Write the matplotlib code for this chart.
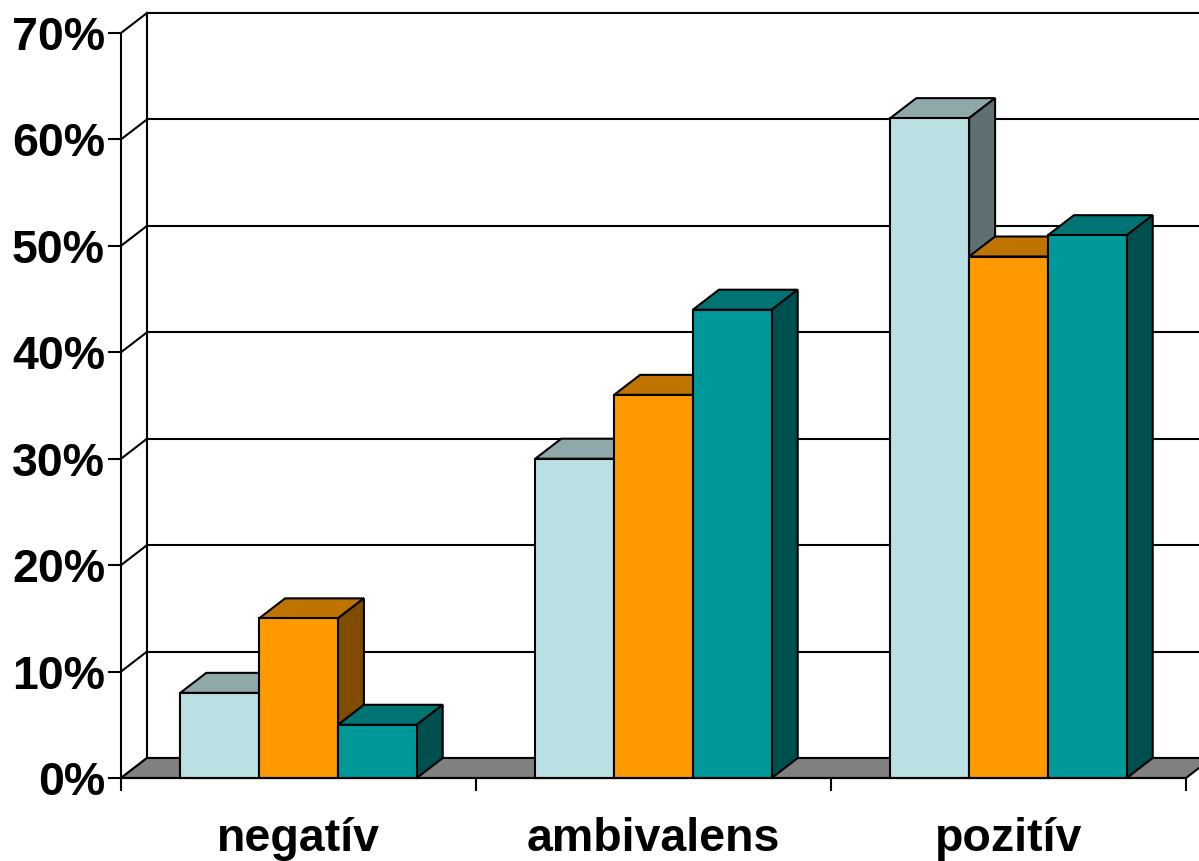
import numpy as np
import matplotlib.pyplot as plt
from matplotlib.patches import Polygon

# data (percent)
categories = ['negatív', 'ambivalens', 'pozitív']
series_a = [8, 30, 62]   # light blue
series_b = [15, 36, 49]  # orange
series_c = [5, 44, 51]   # teal
yticks = [0, 10, 20, 30, 40, 50, 60, 70]

front_col = ['#BBE0E3', '#FF9900', '#009999']
top_col = ['#8FA9AB', '#C07400', '#007373']
side_col = ['#5E7072', '#7F4C00', '#004F4F']

plt.rcParams['font.family'] = ['Liberation Sans', 'DejaVu Sans']
plt.rcParams['font.weight'] = 'bold'

W, H = 1199, 861
fig = plt.figure(figsize=(W / 100, H / 100), dpi=100)
ax = fig.add_axes([121 / W, 83 / H, 1065 / W, 745 / H])
ax.set_xlim(0, 3)
ax.set_ylim(0, 70)
ax.patch.set_visible(False)

# depth of the pseudo-3d box, in data units
dx = 26 / 1065 * 3
dy = 20 / 745 * 70
lw = 1.5

# floor
floor = Polygon([(0, 0), (3, 0), (3 + dx, dy), (dx, dy)], closed=True,
                facecolor='#808080', edgecolor='black', lw=lw, zorder=1,
                clip_on=False)
ax.add_patch(floor)

# back wall gridlines and side wall diagonals
for t in yticks:
    ax.plot([dx, 3 + dx + 0.2], [t + dy, t + dy], color='black', lw=lw,
            clip_on=False, zorder=0.5)
    ax.plot([0, dx], [t, t + dy], color='black', lw=lw, clip_on=False, zorder=0.5)
ax.plot([dx, dx], [dy, 70 + dy], color='black', lw=lw, clip_on=False, zorder=0.5)

# bars
w = 0.222
series = [series_a, series_b, series_c]
k = 0
for i in range(len(categories)):
    for j, vals in enumerate(series):
        v = vals[i]
        x0 = i + 0.5 + (j - 1.5) * w
        x1 = x0 + w
        z = 3 + k * 0.1
        top = Polygon([(x0, v), (x1, v), (x1 + dx, v + dy), (x0 + dx, v + dy)],
                      closed=True, facecolor=top_col[j], edgecolor='black',
                      lw=lw, zorder=z, clip_on=False, joinstyle='miter')
        side = Polygon([(x1, 0), (x1 + dx, dy), (x1 + dx, v + dy), (x1, v)],
                       closed=True, facecolor=side_col[j], edgecolor='black',
                       lw=lw, zorder=z, clip_on=False, joinstyle='miter')
        ax.add_patch(top)
        ax.add_patch(side)
        ax.bar(x0, v, width=w, align='edge', color=front_col[j],
               edgecolor='black', lw=lw, zorder=z + 0.05, clip_on=False)
        k += 1

# axes
for s in ['top', 'right']:
    ax.spines[s].set_visible(False)
ax.spines['left'].set_linewidth(lw)
ax.spines['bottom'].set_linewidth(lw)
ax.spines['bottom'].set_zorder(10)

ax.set_yticks(yticks, labels=[f'{t}%' for t in yticks])
ax.tick_params(axis='y', length=9.5, width=lw, pad=2, labelsize=33.5)

ax.set_xticks([0, 1, 2, 3], labels=['', '', '', ''])
ax.set_xticks([0.5, 1.5, 2.5], labels=categories, minor=True)
ax.tick_params(axis='x', which='major', length=9.5, width=lw)
ax.tick_params(axis='x', which='minor', length=0, pad=28, labelsize=33.5)

fig.savefig('out.png', dpi=100)
